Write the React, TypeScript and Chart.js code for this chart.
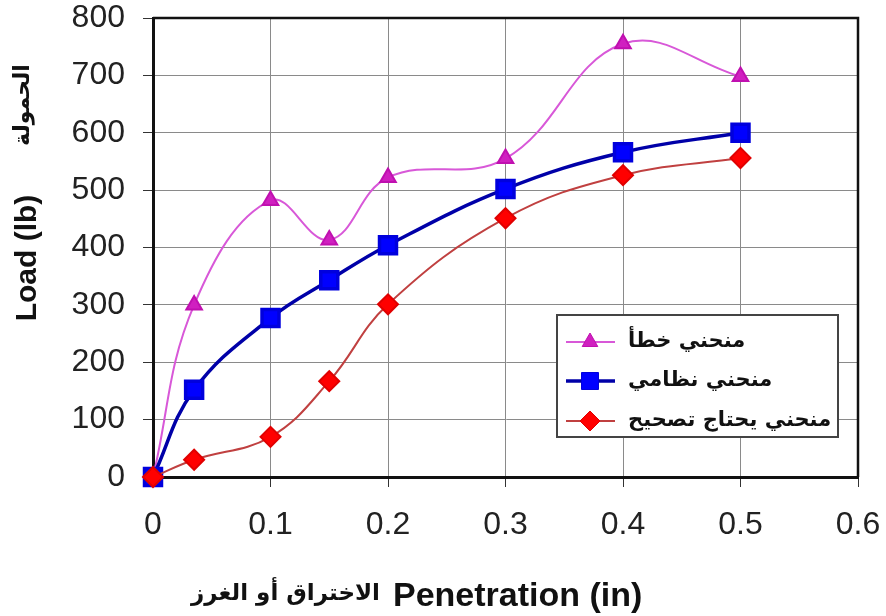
import React, { useEffect, useRef } from 'react';
import { Chart, registerables } from 'chart.js';
import { drawPoint } from 'chart.js/helpers';

Chart.register(...registerables);

// ---- data ----
const penetration = [0, 0.035, 0.1, 0.15, 0.2, 0.3, 0.4, 0.5];
const wrongCurve = [0, 300, 482, 413, 522, 555, 755, 698];
const normalCurve = [0, 152, 277, 343, 404, 502, 566, 600];
const correctionCurve = [0, 30, 70, 167, 301, 451, 526, 556];
const seriesLabels = ['منحني خطأ', 'منحني نظامي', 'منحني يحتاج تصحيح'];
const xTickLabels = ['0', '0.1', '0.2', '0.3', '0.4', '0.5', '0.6'];
const yTickLabels = ['0', '100', '200', '300', '400', '500', '600', '700', '800'];
const xTitleEn = 'Penetration (in)';
const xTitleAr = 'الاختراق أو الغرز';
const yTitleEn = 'Load (lb)';
const yTitleAr = 'الحمولة';

const FONT = '"Liberation Sans", Arial, "DejaVu Sans", sans-serif';
const AR_FONT = '"DejaVu Sans", "Liberation Sans", sans-serif';

const toPoints = (ys: number[]) => ys.map((y, i) => ({ x: penetration[i], y }));

const frameAndTitles = {
  id: 'frameAndTitles',
  afterDatasetsDraw(chart: any) {
    const { ctx, chartArea } = chart;
    ctx.save();
    // top & right frame
    ctx.strokeStyle = '#111';
    ctx.lineWidth = 2.5;
    ctx.beginPath();
    ctx.moveTo(chartArea.left, chartArea.top);
    ctx.lineTo(chartArea.right, chartArea.top);
    ctx.lineTo(chartArea.right, chartArea.bottom);
    ctx.stroke();

    ctx.fillStyle = '#111';
    // x title
    ctx.textBaseline = 'middle';
    ctx.font = `bold 34px ${FONT}`;
    ctx.textAlign = 'left';
    ctx.fillText(xTitleEn, 393, 597);
    ctx.font = `bold 23px ${AR_FONT}`;
    ctx.textAlign = 'right';
    ctx.fillText(xTitleAr, 380, 594);

    // y title
    ctx.save();
    ctx.translate(28, 258);
    ctx.rotate(-Math.PI / 2);
    ctx.font = `bold 30px ${FONT}`;
    ctx.textAlign = 'center';
    ctx.fillText(yTitleEn, 0, 0);
    ctx.restore();
    ctx.save();
    ctx.translate(23, 105);
    ctx.rotate(-Math.PI / 2);
    ctx.font = `bold 22px ${AR_FONT}`;
    ctx.textAlign = 'center';
    ctx.fillText(yTitleAr, 0, 0);
    ctx.restore();
    ctx.restore();
  },
};

const insideLegend = {
  id: 'insideLegend',
  afterDraw(chart: any) {
    const { ctx } = chart;
    const box = { x: 557, y: 315, w: 281, h: 122 };
    ctx.save();
    ctx.fillStyle = '#fff';
    ctx.fillRect(box.x, box.y, box.w, box.h);
    ctx.strokeStyle = '#444';
    ctx.lineWidth = 2;
    ctx.strokeRect(box.x, box.y, box.w, box.h);
    const rows = [342, 381, 421];
    const order = [2, 1, 0]; // dataset index per legend row
    seriesLabels.forEach((label, i) => {
      const ds = chart.data.datasets[order[i]];
      const y = rows[i];
      ctx.strokeStyle = ds.borderColor;
      ctx.lineWidth = ds.borderWidth;
      ctx.beginPath();
      ctx.moveTo(566, y);
      ctx.lineTo(615, y);
      ctx.stroke();
      ctx.fillStyle = ds.pointBackgroundColor;
      ctx.strokeStyle = ds.pointBorderColor;
      ctx.lineWidth = 1;
      drawPoint(ctx, { pointStyle: ds.pointStyle, radius: ds.pointRadius, borderWidth: 1 }, 590, y);
      ctx.fillStyle = '#111';
      ctx.font = `bold 21px ${AR_FONT}`;
      ctx.textAlign = 'left';
      ctx.textBaseline = 'middle';
      ctx.fillText(label, 628, y);
    });
    ctx.restore();
  },
};

export default function App() {
  const ref = useRef<HTMLCanvasElement>(null);
  useEffect(() => {
    document.body.style.margin = '0';
    const canvas = ref.current!;
    const chart = new Chart(canvas, {
      type: 'line',
      data: {
        datasets: [
          {
            label: seriesLabels[2],
            data: toPoints(correctionCurve),
            borderColor: '#C04040',
            borderWidth: 2,
            pointStyle: 'rectRot',
            pointRadius: 10,
            pointBackgroundColor: '#FF0000',
            pointBorderColor: '#E00000',
            tension: 0.4,
            clip: false,
            order: 0,
          },
          {
            label: seriesLabels[1],
            data: toPoints(normalCurve),
            borderColor: '#0000A8',
            borderWidth: 3.5,
            pointStyle: 'rect',
            pointRadius: 12,
            pointBackgroundColor: '#0000FF',
            pointBorderColor: '#0000DD',
            tension: 0.4,
            clip: false,
            order: 1,
          },
          {
            label: seriesLabels[0],
            data: toPoints(wrongCurve),
            borderColor: '#D858D8',
            borderWidth: 2,
            pointStyle: 'triangle',
            pointRadius: 9,
            pointBackgroundColor: '#D020C0',
            pointBorderColor: '#C010B0',
            tension: 0.4,
            clip: false,
            order: 2,
          },
        ],
      },
      options: {
        responsive: false,
        animation: false,
        layout: { autoPadding: false, padding: { left: 0, top: 18, right: 28, bottom: 0 } },
        plugins: { legend: { display: false }, tooltip: { enabled: false } },
        scales: {
          x: {
            type: 'linear',
            min: 0,
            max: 0.6,
            ticks: {
              stepSize: 0.1,
              padding: 19,
              color: '#222',
              font: { family: FONT, size: 32 },
              callback: (_v: any, i: number) => xTickLabels[i],
            },
            grid: { color: '#8a8a8a', lineWidth: 1, tickLength: 10, tickColor: '#333' },
            border: { color: '#111', width: 3 },
            afterFit: (s: any) => {
              s.height = 139;
              s.paddingLeft = 0;
              s.paddingRight = 0;
            },
          },
          y: {
            min: 0,
            max: 800,
            ticks: {
              stepSize: 100,
              padding: 18,
              color: '#222',
              font: { family: FONT, size: 32 },
              callback: (_v: any, i: number) => yTickLabels[i],
            },
            grid: { color: '#8a8a8a', lineWidth: 1, tickLength: 10, tickColor: '#333' },
            border: { color: '#111', width: 3 },
            afterFit: (s: any) => {
              s.width = 153;
              s.paddingTop = 0;
              s.paddingBottom = 0;
            },
          },
        },
      },
      plugins: [frameAndTitles, insideLegend],
    } as any);
    return () => chart.destroy();
  }, []);
  return (
    <div style={{ width: 886, height: 616 }}>
      <canvas ref={ref} width={886} height={616} />
    </div>
  );
}
